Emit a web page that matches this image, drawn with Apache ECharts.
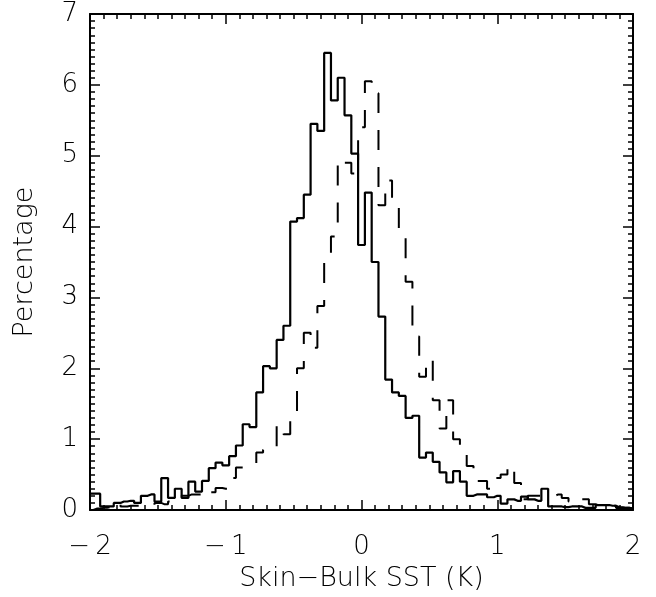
<!DOCTYPE html>
<html>
<head>
<meta charset="utf-8">
<script src="https://cdn.jsdelivr.net/npm/echarts@6/dist/echarts.min.js"></script>
<style>
  html, body { margin: 0; padding: 0; background: #fff; }
  #chart { width: 656px; height: 597px; }
</style>
</head>
<body>
<div id="chart"></div>
<script>
// histogram bins: centres from -2 to 2, 0.05 K wide
var binStart = -2;
var binWidth = 0.05;

// solid histogram (percentage per bin)
var solidValues = [
  0.23, 0.23, 0.05, 0.05, 0.10, 0.12, 0.13, 0.10, 0.20, 0.22,
  0.12, 0.45, 0.17, 0.30, 0.17, 0.40, 0.26, 0.41, 0.59, 0.67,
  0.63, 0.76, 0.91, 1.21, 1.17, 1.66, 2.03, 2.00, 2.40, 2.60,
  4.07, 4.12, 4.45, 5.45, 5.35, 6.45, 5.78, 6.10, 5.57, 5.03,
  3.74, 4.48, 3.50, 2.73, 1.84, 1.66, 1.61, 1.30, 1.33, 0.74,
  0.81, 0.68, 0.53, 0.39, 0.55, 0.40, 0.20, 0.22, 0.22, 0.18,
  0.20, 0.09, 0.15, 0.13, 0.19, 0.15, 0.13, 0.30, 0.05, 0.05,
  0.04, 0.05, 0.05, 0.03, 0.03, 0.07, 0.07, 0.06, 0.03, 0.03,
  0.02
];

// dashed histogram (percentage per bin)
var dashedValues = [
  0.00, 0.02, 0.03, 0.04, 0.10, 0.05, 0.06, 0.06, 0.05, 0.06,
  0.10, 0.08, 0.12, 0.15, 0.20, 0.22, 0.22, 0.28, 0.25, 0.31,
  0.30, 0.45, 0.60, 0.62, 0.66, 0.81, 0.85, 0.88, 1.20, 1.07,
  1.28, 2.00, 2.50, 2.29, 2.88, 3.55, 3.86, 4.95, 4.90, 4.75,
  5.40, 6.05, 5.88, 4.30, 4.65, 4.30, 3.85, 3.22, 2.45, 1.88,
  2.13, 1.55, 1.15, 1.55, 1.00, 0.84, 0.62, 0.41, 0.41, 0.30,
  0.45, 0.50, 0.63, 0.38, 0.15, 0.20, 0.20, 0.18, 0.20, 0.22,
  0.17, 0.12, 0.10, 0.15, 0.08, 0.07, 0.07, 0.06, 0.04, 0.03,
  0.02
];

var xTicks = [-2, -1, 0, 1, 2];
var yTicks = [0, 1, 2, 3, 4, 5, 6, 7];

function toPairs(values) {
  var out = [];
  for (var i = 0; i < values.length; i++) {
    var x = +(binStart + i * binWidth).toFixed(2);
    out.push([x, values[i]]);
  }
  return out;
}

var fontName = 'DejaVu Sans';
var fontWeight = 300;

function xAxisCfg(pos, showLabels) {
  return {
    type: 'value',
    position: pos,
    min: xTicks[0],
    max: xTicks[xTicks.length - 1],
    interval: 1,
    name: showLabels ? 'Skin\u2212Bulk SST (K)' : '',
    nameLocation: 'middle',
    nameGap: 55,
    nameTextStyle: { fontFamily: fontName, fontWeight: fontWeight, fontSize: 27, color: '#000' },
    axisLine: { show: true, onZero: false, lineStyle: { color: '#000', width: 2 } },
    axisTick: { show: true, inside: true, length: 10, lineStyle: { color: '#000', width: 1.5 } },
    minorTick: { show: true, splitNumber: 10, length: 5, lineStyle: { color: '#000', width: 1.5 } },
    axisLabel: {
      show: showLabels,
      margin: 24,
      fontFamily: fontName,
      fontWeight: fontWeight,
      fontSize: 26,
      color: '#000',
      formatter: function (v) { return v < 0 ? '\u2212\u2009' + Math.abs(v) : String(v); }
    },
    splitLine: { show: false }
  };
}

function yAxisCfg(pos, showLabels) {
  return {
    type: 'value',
    position: pos,
    min: yTicks[0],
    max: yTicks[yTicks.length - 1],
    interval: 1,
    name: showLabels ? 'Percentage' : '',
    nameLocation: 'middle',
    nameGap: 52,
    nameTextStyle: { fontFamily: fontName, fontWeight: fontWeight, fontSize: 27, color: '#000' },
    axisLine: { show: true, onZero: false, lineStyle: { color: '#000', width: 2 } },
    axisTick: { show: true, inside: true, length: 10, lineStyle: { color: '#000', width: 1.5 } },
    minorTick: { show: true, splitNumber: 10, length: 5, lineStyle: { color: '#000', width: 1.5 } },
    axisLabel: { show: showLabels, margin: 12, fontFamily: fontName, fontWeight: fontWeight, fontSize: 26, color: '#000' },
    splitLine: { show: false }
  };
}

function getOption() {
  return {
    backgroundColor: '#fff',
    animation: false,
    grid: { left: 90, right: 23, top: 14, bottom: 86 },
    xAxis: [xAxisCfg('bottom', true), xAxisCfg('top', false)],
    yAxis: [yAxisCfg('left', true), yAxisCfg('right', false)],
    series: [
      {
        name: 'solid',
        type: 'line',
        step: 'middle',
        showSymbol: false,
        clip: true,
        lineStyle: { color: '#000', width: 2.2, type: 'solid' },
        data: toPairs(solidValues)
      },
      {
        name: 'dashed',
        type: 'line',
        step: 'middle',
        showSymbol: false,
        clip: true,
        lineStyle: { color: '#000', width: 2, type: [20, 17] },
        data: toPairs(dashedValues)
      }
    ]
  };
}

var chart = echarts.init(document.getElementById('chart'), null, { renderer: 'canvas' });
chart.setOption(getOption());
</script>
</body>
</html>
